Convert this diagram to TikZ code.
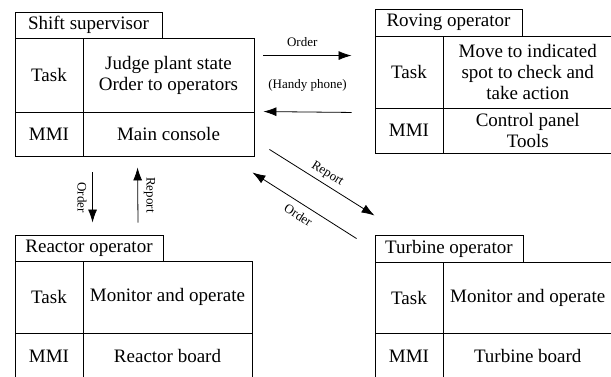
\documentclass[tikz,border=0pt]{standalone}
\usepackage{fontspec}
\setmainfont{Liberation Serif}
\usetikzlibrary{arrows.meta}

\begin{document}
\begin{tikzpicture}[x=1pt,y=-1pt,
	cell/.style={draw, line width=0.9pt, inner sep=0pt, align=center, font=\fontsize{19}{21}\selectfont},
	lbl/.style={font=\fontsize{13}{15}\selectfont, inner sep=2pt},
	msg/.style={line width=0.8pt, -{Latex[length=13pt,width=9pt]}}]
	\useasboundingbox (0,0) rectangle (611,376);
	% shift supervisor
	\node[cell, minimum width=147pt, minimum height=26pt] (sup-title) at (88.5,25) {Shift supervisor};
	\node[cell, minimum width=68pt, minimum height=74pt] (sup-task) at (49,75) {Task};
	\node[cell, minimum width=171pt, minimum height=74pt] (sup-desc) at (168.5,75) {Judge plant state\\Order to operators};
	\node[cell, minimum width=68pt, minimum height=44pt] (sup-mmi) at (49,134) {MMI};
	\node[cell, minimum width=171pt, minimum height=44pt] (sup-mmidesc) at (168.5,134) {Main console};
	% roving operator
	\node[cell, minimum width=147pt, minimum height=27pt] (rov-title) at (448.5,22.5) {Roving operator};
	\node[cell, minimum width=68pt, minimum height=72pt] (rov-task) at (409,72) {Task};
	\node[cell, minimum width=169.5pt, minimum height=72pt] (rov-desc) at (527.75,72) {Move to indicated\\spot to check and\\take action};
	\node[cell, minimum width=68pt, minimum height=45pt] (rov-mmi) at (409,130.5) {MMI};
	\node[cell, minimum width=169.5pt, minimum height=45pt] (rov-mmidesc) at (527.75,130.5) {Control panel\\Tools};
	% reactor operator
	\node[cell, minimum width=148pt, minimum height=26pt] (rea-title) at (89,248) {Reactor operator};
	\node[cell, minimum width=68pt, minimum height=72pt] (rea-task) at (49,297) {Task};
	\node[cell, minimum width=169pt, minimum height=72pt] (rea-desc) at (167.5,297) {Monitor and operate};
	\node[cell, minimum width=68pt, minimum height=46pt] (rea-mmi) at (49,356) {MMI};
	\node[cell, minimum width=169pt, minimum height=46pt] (rea-mmidesc) at (167.5,356) {Reactor board};
	% turbine operator
	\node[cell, minimum width=148pt, minimum height=27pt] (tur-title) at (449,248.5) {Turbine operator};
	\node[cell, minimum width=68pt, minimum height=71pt] (tur-task) at (409,297.5) {Task};
	\node[cell, minimum width=169.5pt, minimum height=71pt] (tur-desc) at (527.75,297.5) {Monitor and operate};
	\node[cell, minimum width=68pt, minimum height=46pt] (tur-mmi) at (409,356) {MMI};
	\node[cell, minimum width=169.5pt, minimum height=46pt] (tur-mmidesc) at (527.75,356) {Turbine board};
	% messages
	\path[msg]
	([shift={(9,18)}]sup-desc.north east) edge node[lbl, above=7pt, pos=.44] {Order} node[lbl, below=22pt] {(Handy phone)} ([shift={(-23,20)}]rov-task.north west)
	([shift={(-23,4)}]rov-task.south west) edge ([shift={(9,0)}]sup-mmidesc.north east)
	([shift={(10,16)}]sup-mmidesc.south west) edge node[lbl, midway, rotate=-90, anchor=north, outer sep=4pt] {Order} ([shift={(78,-12)}]rea-title.north west)
	([shift={(49,-12)}]rea-title.north) edge node[lbl, midway, rotate=-90, anchor=south, outer sep=4pt] {Report} ([shift={(55,11)}]sup-mmidesc.south west)
	([shift={(15,-7)}]sup-mmidesc.south east) edge node[lbl, sloped, above=2pt] {Report} ([shift={(0,-19)}]tur-title.north west)
	([shift={(-18,4)}]tur-title.north west) edge node[lbl, sloped, below=4.5pt] {Order} ([shift={(-2,16)}]sup-mmidesc.south east);
\end{tikzpicture}
\end{document}
